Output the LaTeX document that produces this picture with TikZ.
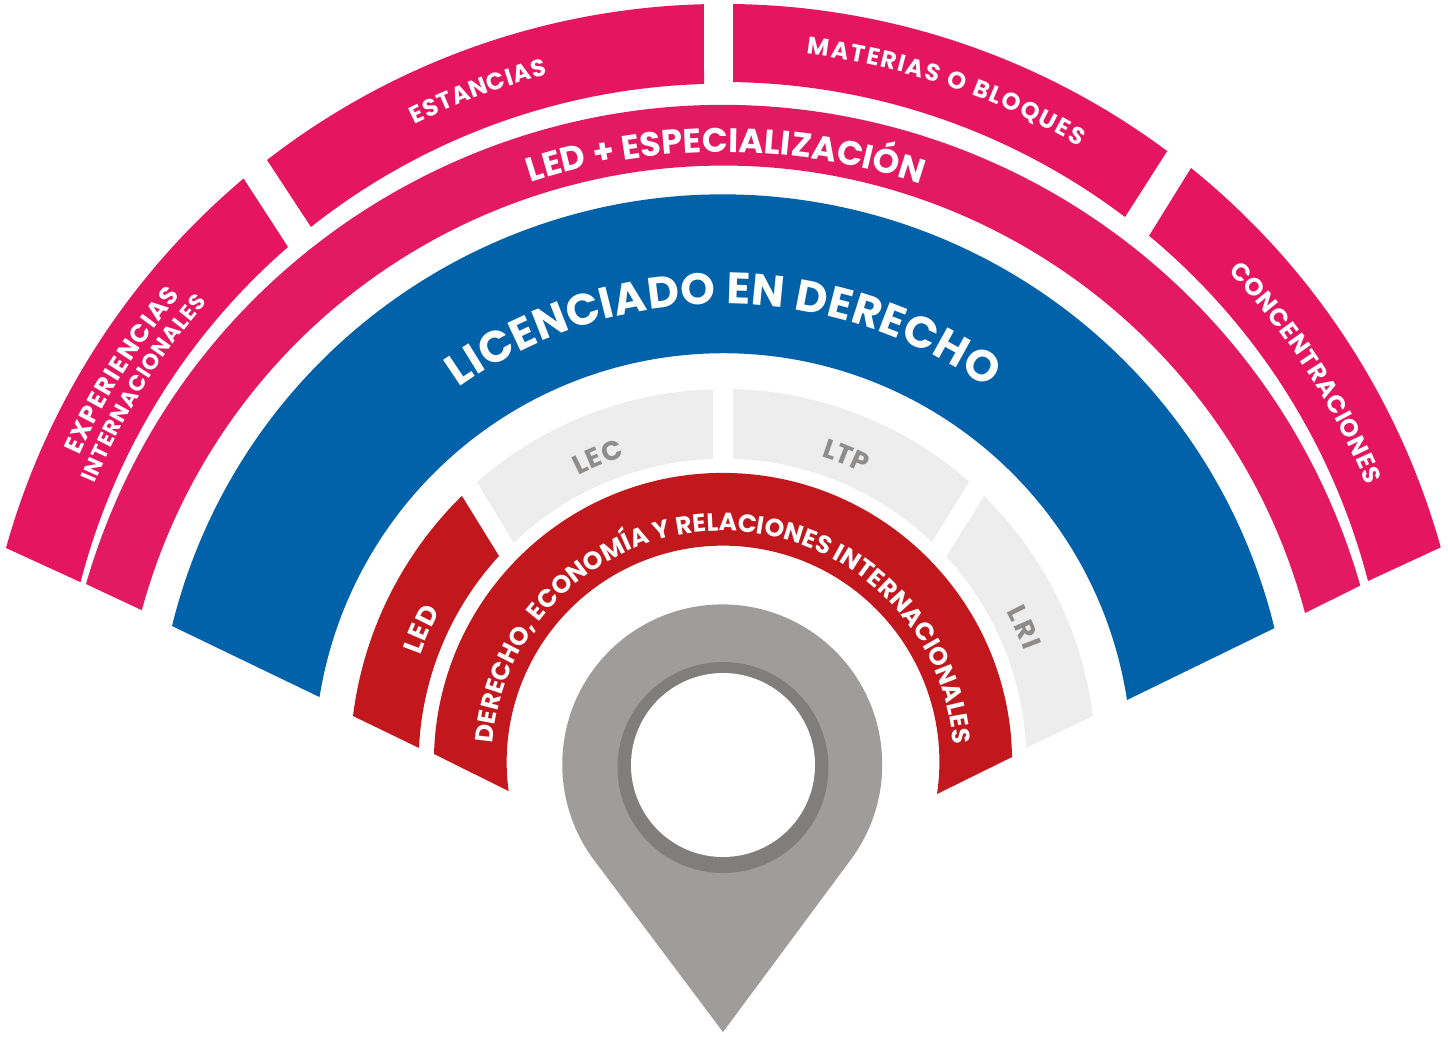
\documentclass[tikz,border=0pt]{standalone}
\usepackage{fontspec}
\setmainfont{Poppins}
\usetikzlibrary{decorations.text}
\definecolor{pinka}{HTML}{E5165F}
\definecolor{pinkb}{HTML}{E31A62}
\definecolor{blueband}{HTML}{0262A9}
\definecolor{redband}{HTML}{C1171D}
\definecolor{greyband}{HTML}{EDEDED}
\definecolor{greytext}{HTML}{8E8D8C}
\definecolor{pinbody}{HTML}{9E9D9C}
\definecolor{pinring}{HTML}{7F7E7C}
% colour, centre y, outer-left, outer-right, inner-right, inner-left corners
\newcommand{\bandshape}[9]{%
  \pgfmathsetmacro{\aA}{atan2(#2-#4,#3-723)}%
  \pgfmathsetmacro{\aB}{atan2(#2-#6,#5-723)}%
  \pgfmathsetmacro{\rA}{veclen(#2-#4,#3-723)}%
  \bandfinish{#1}{#2}{#3}{#4}{#5}{#6}{#7}{#8}{#9}}
\newcommand{\bandfinish}[9]{\bandinner{#1}{#2}{#3}{#4}{#7}{#8}#9}
\newcommand{\bandinner}[8]{%
  \pgfmathsetmacro{\aC}{atan2(#2-#6,#5-723)}%
  \pgfmathsetmacro{\aD}{atan2(#2-#8,#7-723)}%
  \pgfmathsetmacro{\aD}{\aD<-90 ? \aD+360 : \aD}%
  \pgfmathsetmacro{\rC}{veclen(#2-#6,#5-723)}%
  \fill[#1] (#3,-#4) arc[start angle=\aA,end angle=\aB,radius=\rA]
     -- (#5,-#6) arc[start angle=\aC,end angle=\aD,radius=\rC] -- cycle;}
% centre y, baseline radius, start angle, end angle, font size, colour, text
\newcommand{\arctext}[7]{%
  \def\arcfmt{\bfseries\fontsize{#5}{#5}\selectfont\color{#6}}%
  \path[decorate,decoration={text along path,text align={fit to path},text={|\arcfmt|#7}}]
    ([shift={(723,-#1)}]#3:#2) arc[start angle=#3,end angle=#4,radius=#2];}
\begin{document}
\begin{tikzpicture}[x=1pt,y=1pt]
\useasboundingbox (0,0) rectangle (1448,-1036);
% outer pink segments
\bandshape{pinka}{748}{6}{548}{244}{179}{288}{247}{{80}{582}}
\bandshape{pinka}{748}{267}{160}{704}{4}{704}{84}{{311}{227}}
\bandshape{pinka}{748}{733}{4}{1168}{150}{1125}{217}{{733}{84}}
\bandshape{pinka}{748}{1191}{168}{1442}{547}{1368}{581}{{1148}{237}}
% pink band
\bandshape{pinkb}{768}{86}{584}{1359}{586}{1305}{613}{{141}{610}}
% blue band
\bandshape{blueband}{762}{172}{626}{1275}{628}{1127}{700}{{319}{697}}
% inner segments
\bandshape{redband}{762}{353}{716}{462}{496}{499}{556}{{420}{748}}
\bandshape{greyband}{762}{477}{482}{713}{389}{713}{459}{{513}{542}}
\bandshape{greyband}{762}{733}{389}{969}{482}{932}{542}{{733}{459}}
\bandshape{greyband}{762}{984}{496}{1093}{716}{1026}{748}{{947}{556}}
% red band
\bandshape{redband}{762}{434}{754}{1012}{757}{937}{794}{{509}{791}}
% pin
\fill[pinbody] (723,-1032) -- (852,-858) arc[start angle=-35.8,end angle=215.8,radius=160] -- cycle;
\fill[pinring] (723,-767.5) circle[radius=105.5];
\fill[white] (723,-765) circle[radius=92];
% labels
\arctext{762}{458}{125.2}{54.7}{44}{white}{LICENCIADO EN DERECHO}
\arctext{768}{616}{108.2}{71.3}{34}{white}{LED + ESPECIALIZACIÓN}
\arctext{748}{696}{116.3}{104.6}{24}{white}{ESTANCIAS}
\arctext{748}{699}{83.1}{59.4}{24}{white}{MATERIAS O BLOQUES}
\arctext{748}{707}{155.6}{140.2}{25}{white}{EXPERIENCIAS}
\arctext{748}{682}{157.2}{139.2}{22}{white}{INTERNACIONALES}
\arctext{748}{695}{43.3}{22.2}{24.5}{white}{CONCENTRACIONES}
\arctext{762}{231}{175.3}{4.8}{25}{white}{DERECHO, ECONOMÍA Y RELACIONES INTERNACIONALES}
\arctext{762}{321}{160.6}{151.9}{27}{white}{LED}
\arctext{762}{321}{116.8}{107.8}{27}{greytext}{LEC}
\arctext{762}{321}{72.2}{64.6}{27}{greytext}{LTP}
\arctext{762}{321}{27.9}{20.3}{27}{greytext}{LRI}
\end{tikzpicture}
\end{document}
